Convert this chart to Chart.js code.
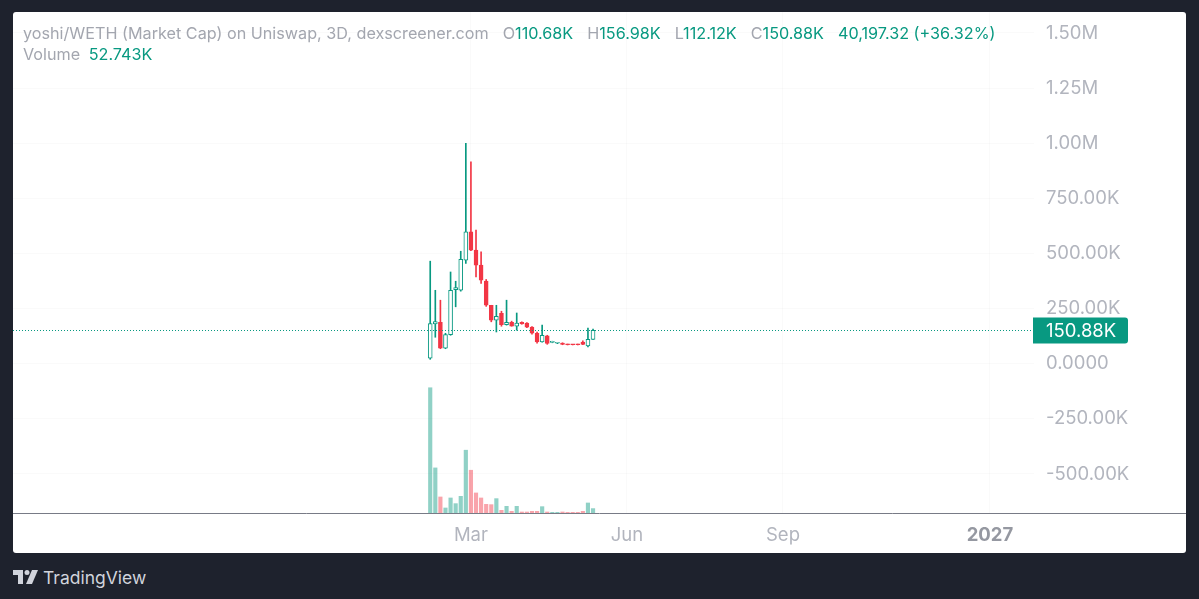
<!DOCTYPE html>
<html>
<head>
<meta charset="utf-8">
<title>yoshi/WETH (Market Cap)</title>
<script src="https://cdn.jsdelivr.net/npm/chart.js@4.4.1/dist/chart.umd.min.js"></script>
<style>
  html, body { margin: 0; padding: 0; width: 1199px; height: 599px; overflow: hidden; background: #1e222d; font-family: Inter, "Noto Sans", sans-serif; }
  #panel { position: absolute; left: 13px; top: 12px; width: 1173px; height: 541px; background: #fff; border-radius: 3px; overflow: hidden; }
  #chart { position: absolute; left: 0; top: 0; }
  .legend { position: absolute; left: 10px; font-size: 16.2px; line-height: 20px; color: #a3a6af; white-space: pre; }
  #line1 { top: 11px; }
  #line2 { top: 32px; }
  .val { color: #089981; }
  .sep { margin-left: 14px; }
  #brand { position: absolute; left: 13px; top: 566px; height: 22px; display: flex; align-items: center; color: #d1d4dc; font-size: 17.5px; }
  #brand svg { margin-right: 5px; }
</style>
</head>
<body>
<div id="panel">
  <canvas id="chart" width="1173" height="541"></canvas>
  <div class="legend" id="line1"></div>
  <div class="legend" id="line2"></div>
</div>
<div id="brand">
  <svg width="25" height="14" viewBox="0 0 25 14"><path d="M0 0h10v14H5V5H0z" fill="#d1d4dc"/><circle cx="14" cy="2.5" r="2.5" fill="#d1d4dc"/><path d="M19 0h6l-6 14h-6z" fill="#d1d4dc"/></svg>
  <span>TradingView</span>
</div>
<script>
// 3D candles, values in thousands (market cap)
const candleDates = ['2026-02-05', '2026-02-08', '2026-02-11', '2026-02-14', '2026-02-17', '2026-02-20', '2026-02-23', '2026-02-26',
    '2026-03-01', '2026-03-04', '2026-03-07', '2026-03-10', '2026-03-13', '2026-03-16', '2026-03-19', '2026-03-22',
    '2026-03-25', '2026-03-28', '2026-03-31', '2026-04-03', '2026-04-06', '2026-04-09', '2026-04-12', '2026-04-15',
    '2026-04-18', '2026-04-21', '2026-04-24', '2026-04-27', '2026-04-30', '2026-05-03', '2026-05-06', '2026-05-09', '2026-05-12'];
const opens  = [25, 181, 188, 70, 132, 336, 333, 470, 598, 515, 447, 375, 265, 197, 228, 177, 188, 170, 188, 184, 166, 138, 99, 126, 97, 93, 94, 87, 86.5, 86.5, 98, 81, 110.68];
const highs  = [465, 333, 288, 138, 416, 374, 510, 999, 916, 606, 507, 382, 265, 265, 238, 288, 193, 230, 190, 186, 168, 143, 175, 129, 102, 97, 95, 89, 88, 89, 104, 162, 156.98];
const lows   = [20, 120, 68, 68, 129, 258, 329, 455, 513, 394, 364, 260, 190, 144, 170, 175, 170, 152, 179, 163, 134, 93, 98, 88, 95, 91, 86, 85, 85, 85, 86, 76, 110.68];
const closes = [182, 191, 70, 132, 333, 345, 473, 598, 515, 447, 379, 265, 197, 215, 177, 188, 170, 184, 181, 166, 138, 99, 129, 92, 100, 95, 87, 86, 86, 86, 87, 111, 150.88];
const volumes = [1500, 540, 192, 60, 180, 112, 200, 752, 512, 240, 180, 104, 100, 172, 32, 80, 20, 80, 12, 12, 20, 20, 76, 12, 8, 8, 12, 8, 8, 8, 20, 120, 52.743];

const priceTickValues = [-500, -250, 0, 250, 500, 750, 1000, 1250, 1500];
const priceTickLabels = ['-500.00K', '-250.00K', '0.0000', '250.00K', '500.00K', '750.00K', '1.00M', '1.25M', '1.50M'];
const timeTickDates = ['2026-03-01', '2026-06-01', '2026-09-01', '2027-01-01'];
const timeTickLabels = ['Mar', 'Jun', 'Sep', '2027'];

const headerTitle = 'yoshi/WETH (Market Cap) on Uniswap, 3D, dexscreener.com';
const headerValues = ['110.68K', '156.98K', '112.12K', '150.88K'];
const headerChange = '40,197.32 (+36.32%)';
const volumeLabel = '52.743K';
const lastPriceLabel = '150.88K';

const K = 1000;
const UP = '#089981';
const DOWN = '#f23645';
const FONT = 'Inter, "Noto Sans", sans-serif';

// days since Mar 1 (x axis is linear in days)
const dayOf = d => (Date.parse(d) - Date.parse('2026-03-01')) / 86400000;
const xs = candleDates.map(dayOf);
const isUp = closes.map((c, i) => c >= opens[i]);

// header legend
document.getElementById('line1').innerHTML = headerTitle +
    ['O', 'H', 'L', 'C'].map((k, i) => `<span class="sep">${k}</span><span class="val">${headerValues[i]}</span>`).join('') +
    `<span class="sep val">${headerChange}</span>`;
document.getElementById('line2').innerHTML = `Volume <span class="val" style="margin-left:4px">${volumeLabel}</span>`;

// dotted last price line, price tag and full width time axis line
const tvExtras = {
    id: 'tvExtras',
    afterDraw(chart) {
        const c = chart.ctx;
        const area = chart.chartArea;
        const y = Math.round(chart.scales.y.getPixelForValue(closes[closes.length - 1] * K));
        c.save();
        c.strokeStyle = UP;
        c.lineWidth = 1;
        c.setLineDash([1, 2]);
        c.beginPath();
        c.moveTo(area.left, y + 0.5);
        c.lineTo(area.right, y + 0.5);
        c.stroke();
        c.setLineDash([]);

        // price tag
        c.fillStyle = UP;
        c.beginPath();
        c.roundRect(area.right - 1, y - 12.5, 95, 26, [0, 3, 3, 0]);
        c.fill();
        c.fillStyle = '#ffffff';
        c.font = '18.5px ' + FONT;
        c.textBaseline = 'middle';
        c.textAlign = 'left';
        c.fillText(lastPriceLabel, area.right + 12, y + 1.5);

        // bottom axis line across the whole panel
        c.strokeStyle = '#787b86';
        c.beginPath();
        c.moveTo(0, area.bottom + 0.5);
        c.lineTo(chart.width, area.bottom + 0.5);
        c.stroke();
        c.restore();
    }
};

const ctx = document.getElementById('chart').getContext('2d');
const chart = new Chart(ctx, {
    type: 'bar',
    data: {
        datasets: [
            {
                // candle bodies (drawn on top)
                label: 'body',
                data: xs.map((x, i) => ({ x: x, y: [opens[i] * K, closes[i] * K] })),
                backgroundColor: isUp.map(u => u ? '#ffffff' : DOWN),
                borderColor: isUp.map(u => u ? UP : DOWN),
                borderWidth: 1,
                borderSkipped: false,
                barThickness: 4,
                minBarLength: 1,
                grouped: false,
                yAxisID: 'y'
            },
            {
                label: 'wick',
                data: xs.map((x, i) => ({ x: x, y: [lows[i] * K, highs[i] * K] })),
                backgroundColor: isUp.map(u => u ? UP : DOWN),
                barThickness: 1,
                grouped: false,
                yAxisID: 'y'
            },
            {
                label: 'Volume',
                data: xs.map((x, i) => ({ x: x, y: volumes[i] * K })),
                backgroundColor: isUp.map(u => u ? 'rgba(8,153,129,0.45)' : 'rgba(242,54,69,0.45)'),
                barThickness: 3.5,
                grouped: false,
                yAxisID: 'yVol'
            }
        ]
    },
    options: {
        responsive: false,
        animation: false,
        layout: { padding: 0 },
        plugins: {
            legend: { display: false },
            tooltip: { enabled: false }
        },
        scales: {
            x: {
                type: 'linear',
                min: -270,
                max: 332,
                offset: false,
                grid: { color: 'rgba(42,46,57,0.025)', drawTicks: false, offset: false },
                border: { display: false },
                afterBuildTicks: scale => { scale.ticks = timeTickDates.map(d => ({ value: dayOf(d) })); },
                afterFit: scale => { scale.height = 40; scale.paddingLeft = 0; scale.paddingRight = 0; },
                ticks: {
                    padding: 11,
                    maxRotation: 0,
                    autoSkip: false,
                    color: ctx => ctx.index === 3 ? '#9598a1' : '#b2b5be',
                    font: ctx => ({ family: FONT, size: 18.5, weight: ctx.index === 3 ? 'bold' : 'normal' }),
                    callback: (value, index) => timeTickLabels[index]
                }
            },
            y: {
                position: 'right',
                min: -677000,
                max: 1595000,
                grid: { color: 'rgba(42,46,57,0.025)', drawTicks: false },
                border: { display: false },
                afterBuildTicks: scale => { scale.ticks = priceTickValues.map(v => ({ value: v * K })); },
                afterFit: scale => { scale.width = 152; scale.paddingTop = 0; scale.paddingBottom = 0; },
                ticks: {
                    padding: 12,
                    crossAlign: 'near',
                    color: '#b2b5be',
                    font: { family: FONT, size: 18.5 },
                    callback: (value, index) => priceTickLabels[index]
                }
            },
            yVol: {
                display: false,
                min: 0,
                max: 6000000
            }
        }
    },
    plugins: [tvExtras]
});
</script>
</body>
</html>
